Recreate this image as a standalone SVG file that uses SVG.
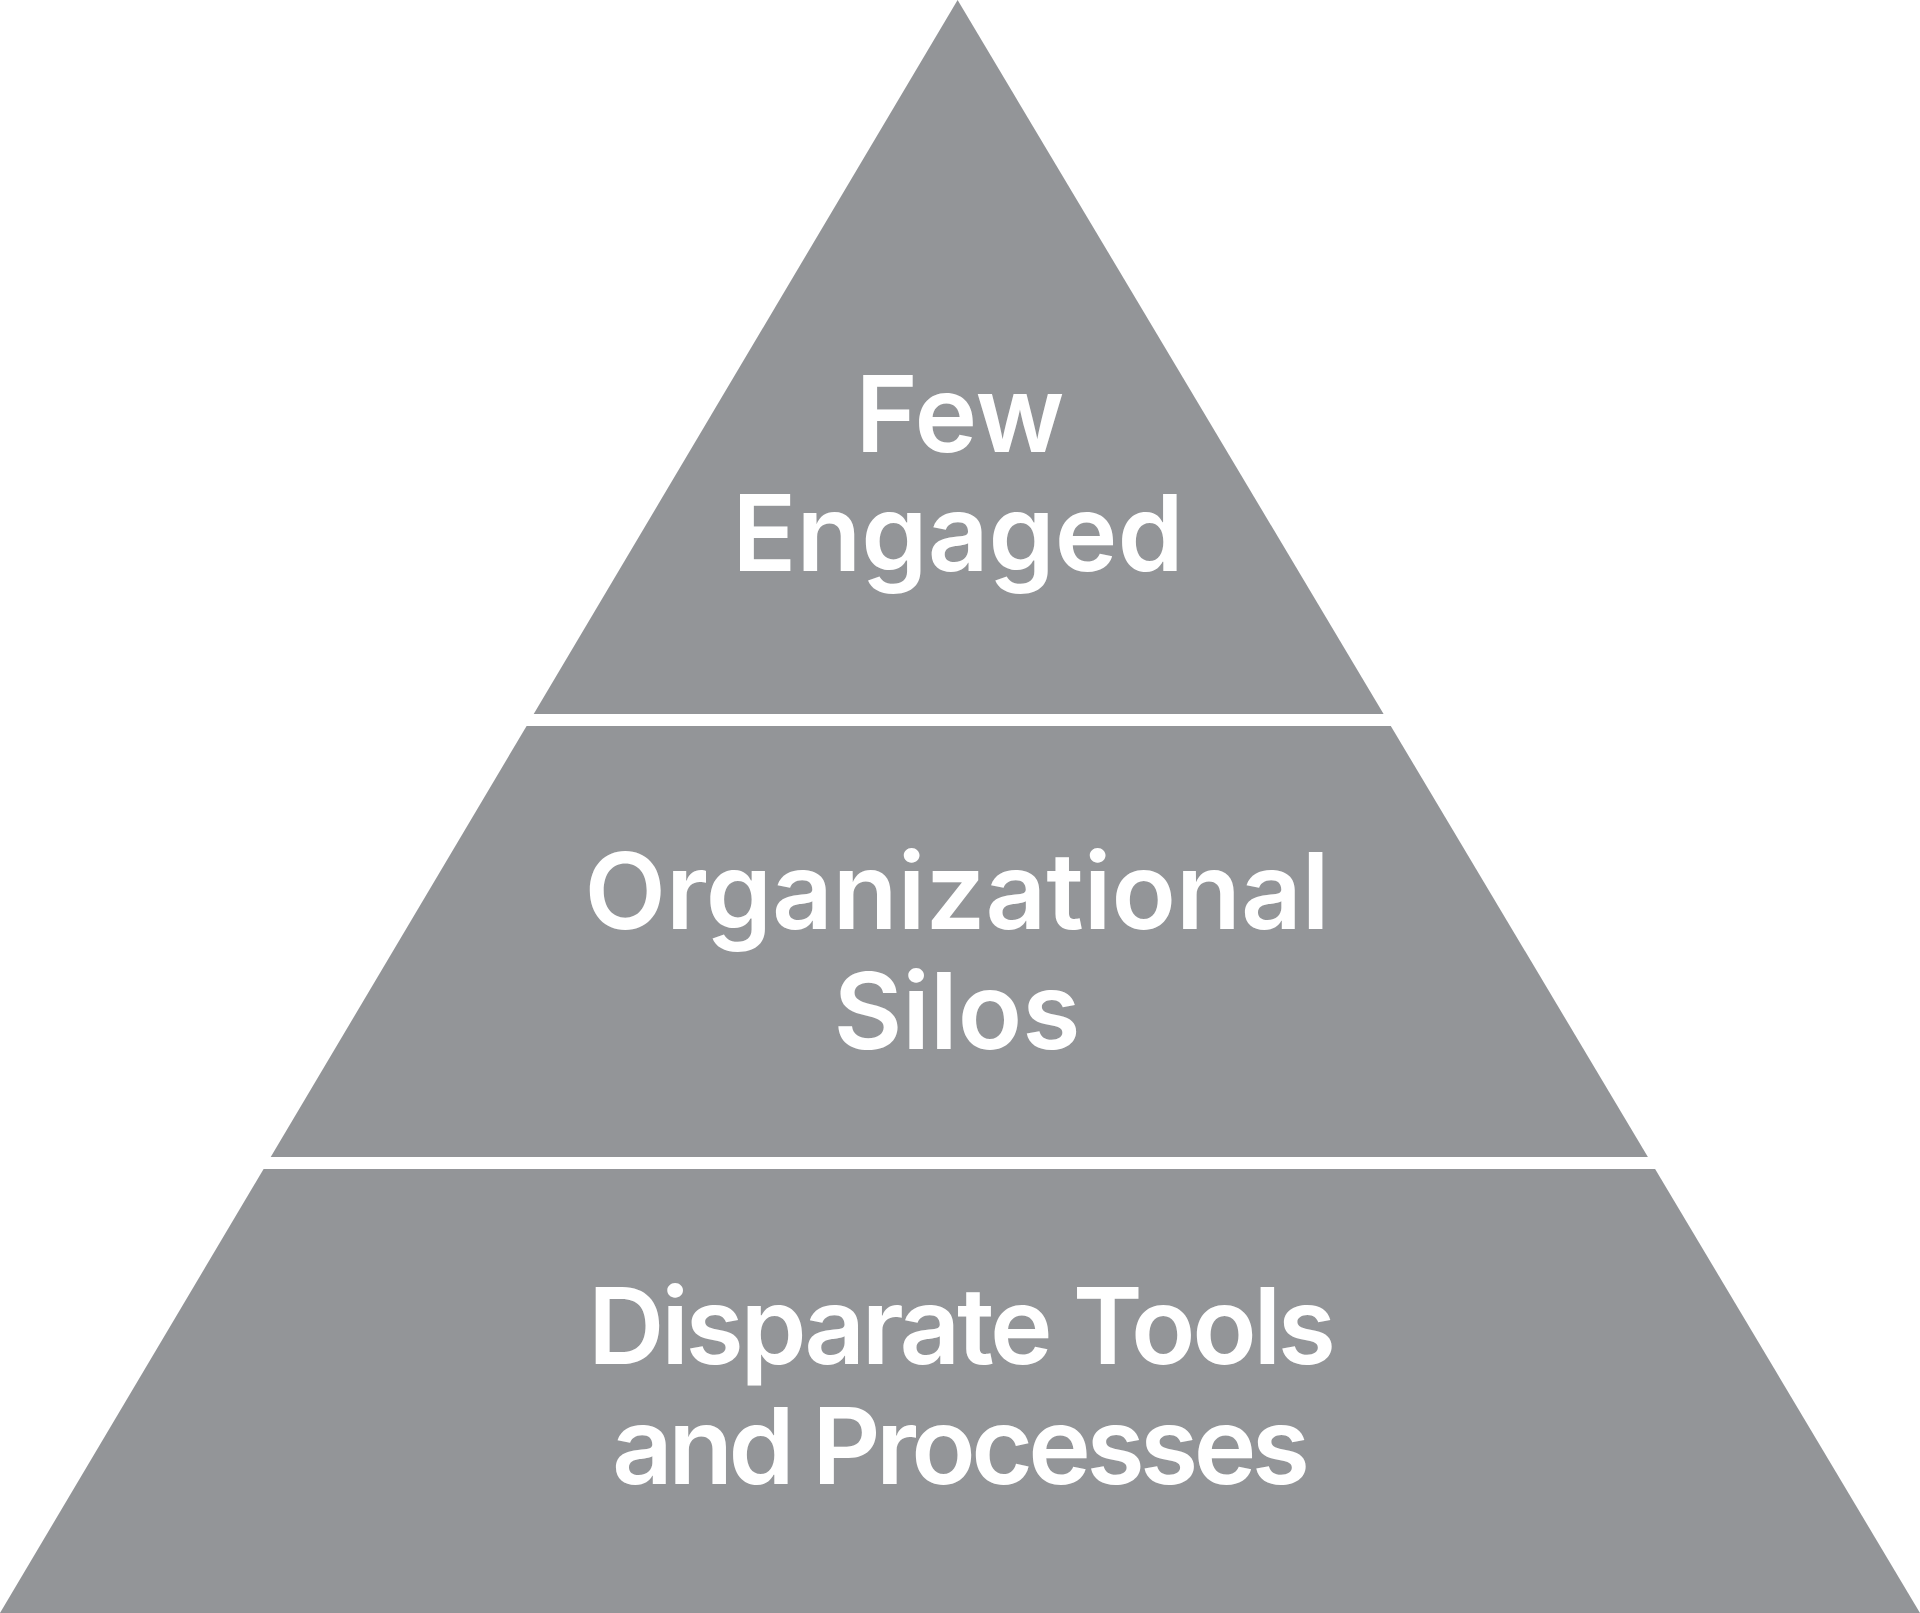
<svg xmlns="http://www.w3.org/2000/svg" width="1920" height="1613" viewBox="0 0 1920 1613">
<style>
.band{fill:#939598;}
.lbl{font-family:Inter,Lato,"DejaVu Sans",sans-serif;font-weight:600;font-size:106px;fill:#ffffff;text-anchor:middle;}
</style>
<rect x="0" y="0" width="1920" height="1613" fill="#ffffff"/>
<g id="connectors"></g>
<g id="node-top">
<polygon class="band" points="957.6,0 1383.6,714 533.7,714"/>
<text class="lbl" x="960" y="452">Few</text>
<text class="lbl" x="958" y="571">Engaged</text>
</g>
<g id="node-middle">
<polygon class="band" points="526.6,726 1390.8,726 1647.9,1157 270.7,1157"/>
<text class="lbl" x="957" y="929">Organizational</text>
<text class="lbl" x="957" y="1049">Silos</text>
</g>
<g id="node-bottom">
<polygon class="band" points="263.6,1169 1655.1,1169 1920,1613 0,1613"/>
<text class="lbl" x="962" y="1364" textLength="748" lengthAdjust="spacing">Disparate Tools</text>
<text class="lbl" x="961" y="1484" textLength="698" lengthAdjust="spacing">and Processes</text>
</g>
</svg>
